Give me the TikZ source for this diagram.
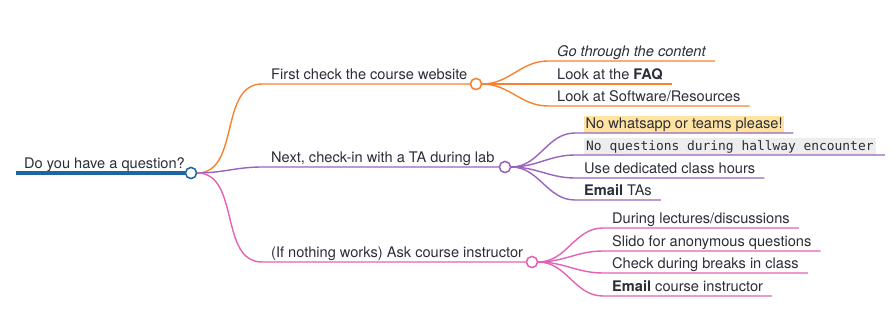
\documentclass[tikz,border=0pt]{standalone}
\usepackage{fontspec}
\setmainfont{TeX Gyre Heros}
\setmonofont{DejaVu Sans Mono}
\usetikzlibrary{positioning}
\definecolor{rootblue}{HTML}{1B66A3}
\definecolor{morange}{HTML}{F7812F}
\definecolor{mpurple}{HTML}{9A63BE}
\definecolor{mpink}{HTML}{E462B3}
\definecolor{ink}{HTML}{2B2D38}
\definecolor{hilite}{HTML}{FFE3A0}
\definecolor{codebg}{HTML}{EDEDED}

\begin{document}
\begin{tikzpicture}[x=1pt, y=-1pt,
  every node/.style={font=\fontsize{14.6}{16}\selectfont, text=ink},
  topic/.style={anchor=south west, inner xsep=9pt, inner ysep=4.5pt, text depth=0pt},
  dot/.style={circle, draw, fill=white, line width=1.4pt, minimum size=11pt, inner sep=0pt},
  link/.style={line width=1.4pt}]
\useasboundingbox (0,0) rectangle (894,315);

% root
\node[dot, draw=rootblue] (q) at (191,173) {};
\node[topic, inner xsep=8pt, inner ysep=4pt] (qt) at (16,173) {Do you have a question?};
\draw[rootblue, line width=4pt] (qt.south west) -- (q.west);

% course website
\node[dot, draw=morange] (web) at (476,84) {};
\node[topic] (webt) at (262,84) {First check the course website};
\node[topic] (web1) at (548,61) {\itshape Go through the content};
\node[topic] (web2) at (548,84) {Look at the \textbf{FAQ}};
\node[topic] (web3) at (548,106) {Look at Software/Resources};
\begin{scope}[morange, link]
\draw (q.east) to[out=0, in=180] (webt.south west) -- (web.west);
\draw (web.east) to[out=0, in=180] (web1.south west) -- (web1.south east);
\draw (web.east) -- (web2.south west) -- (web2.south east);
\draw (web.east) to[out=0, in=180] (web3.south west) -- (web3.south east);
\end{scope}
\node[dot, draw=morange] at (web) {};

% TA during lab
\node[dot, draw=mpurple] (ta) at (505,167) {};
\node[topic] (tat) at (262,167) {Next, check-in with a TA during lab};
\node[topic] (ta1) at (575,133) {{\fboxsep=1.5pt\colorbox{hilite}{No whatsapp or teams please!}}};
\node[topic] (ta2) at (575,155) {{\fboxsep=2pt\colorbox{codebg}{\ttfamily\fontsize{12.9}{14}\selectfont No questions during hallway encounter}}};
\node[topic] (ta3) at (575,178) {Use dedicated class hours};
\node[topic] (ta4) at (575,200) {\textbf{Email} TAs};
\begin{scope}[mpurple, link]
\draw (q.east) to[out=0, in=180] (tat.south west) -- (ta.west);
\draw (ta.east) to[out=0, in=180] (ta1.south west) -- (ta1.south east);
\draw (ta.east) to[out=0, in=180] (ta2.south west) -- (ta2.south east);
\draw (ta.east) to[out=0, in=180] (ta3.south west) -- (ta3.south east);
\draw (ta.east) to[out=0, in=180] (ta4.south west) -- (ta4.south east);
\end{scope}
\node[dot, draw=mpurple] at (ta) {};

% course instructor
\node[dot, draw=mpink] (ins) at (532,262) {};
\node[topic] (inst) at (262,262) {(If nothing works) Ask course instructor};
\node[topic] (ins1) at (603,228) {During lectures/discussions};
\node[topic] (ins2) at (603,251) {Slido for anonymous questions};
\node[topic] (ins3) at (603,273) {Check during breaks in class};
\node[topic] (ins4) at (603,296) {\textbf{Email} course instructor};
\begin{scope}[mpink, link]
\draw (q.east) to[out=0, in=180] (inst.south west) -- (ins.west);
\draw (ins.east) to[out=0, in=180] (ins1.south west) -- (ins1.south east);
\draw (ins.east) to[out=0, in=180] (ins2.south west) -- (ins2.south east);
\draw (ins.east) to[out=0, in=180] (ins3.south west) -- (ins3.south east);
\draw (ins.east) to[out=0, in=180] (ins4.south west) -- (ins4.south east);
\end{scope}
\node[dot, draw=mpink] at (ins) {};

\node[dot, draw=rootblue] at (q) {};
\end{tikzpicture}
\end{document}
